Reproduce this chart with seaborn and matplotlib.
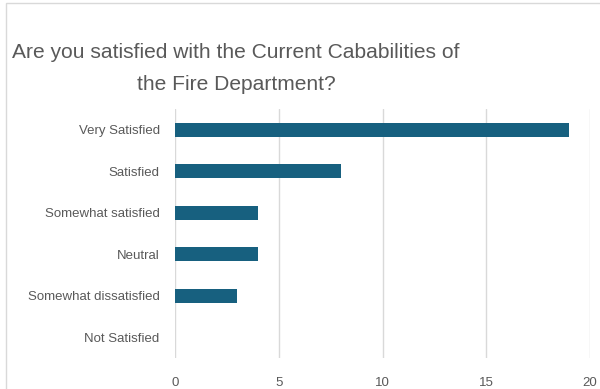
import matplotlib
matplotlib.use("Agg")
import matplotlib.pyplot as plt
import matplotlib.patches as mpatches
import seaborn as sns
import pandas as pd
from matplotlib import font_manager

categories = ["Very Satisfied", "Satisfied", "Somewhat satisfied", "Neutral",
              "Somewhat dissatisfied", "Not Satisfied"]
values = [19, 8, 4, 4, 3, 0]
xticks = [0, 5, 10, 15, 20]

sns.set_style("white")
names = {f.name for f in font_manager.fontManager.ttflist}
fam = "Liberation Sans Narrow" if "Liberation Sans Narrow" in names else "Liberation Sans"
plt.rcParams['font.family'] = [fam, 'DejaVu Sans']

W, H = 600, 389
fig = plt.figure(figsize=(6, 3.89), dpi=100)
ax = fig.add_axes([175 / W, 1 - 358 / H, (590 - 175) / W, (358 - 109) / H])

df = pd.DataFrame({"cat": categories, "val": values})
sns.barplot(data=df, x="val", y="cat", orient="h", color="#17607f",
            width=0.34, saturation=1, ax=ax, order=categories, linewidth=0)

ax.set_xlim(0, 20)
ax.set_xticks(xticks)
ax.set_xlabel("")
ax.set_ylabel("")
ax.grid(axis="x", color="#d9d9d9", linewidth=1)
ax.set_axisbelow(True)
for s in ax.spines.values():
    s.set_visible(False)
ax.tick_params(axis="both", length=0, labelsize=9.5, colors="#595959")
ax.tick_params(axis="x", pad=14)
ax.tick_params(axis="y", pad=11)

fig.text(12 / W, 1 - 52 / H, "Are you satisfied with the Current Cababilities of",
         fontsize=15.1, color="#595959", ha="left", va="center")
fig.text(236 / W, 1 - 85 / H, "the Fire Department?",
         fontsize=15.1, color="#595959", ha="center", va="center")

rect = mpatches.Rectangle((6 / W, -0.1), 1.0, 1 - 3 / H + 0.1, transform=fig.transFigure,
                          fill=False, edgecolor="#d9d9d9", linewidth=1)
fig.patches.append(rect)

fig.savefig("out.png", dpi=100)
